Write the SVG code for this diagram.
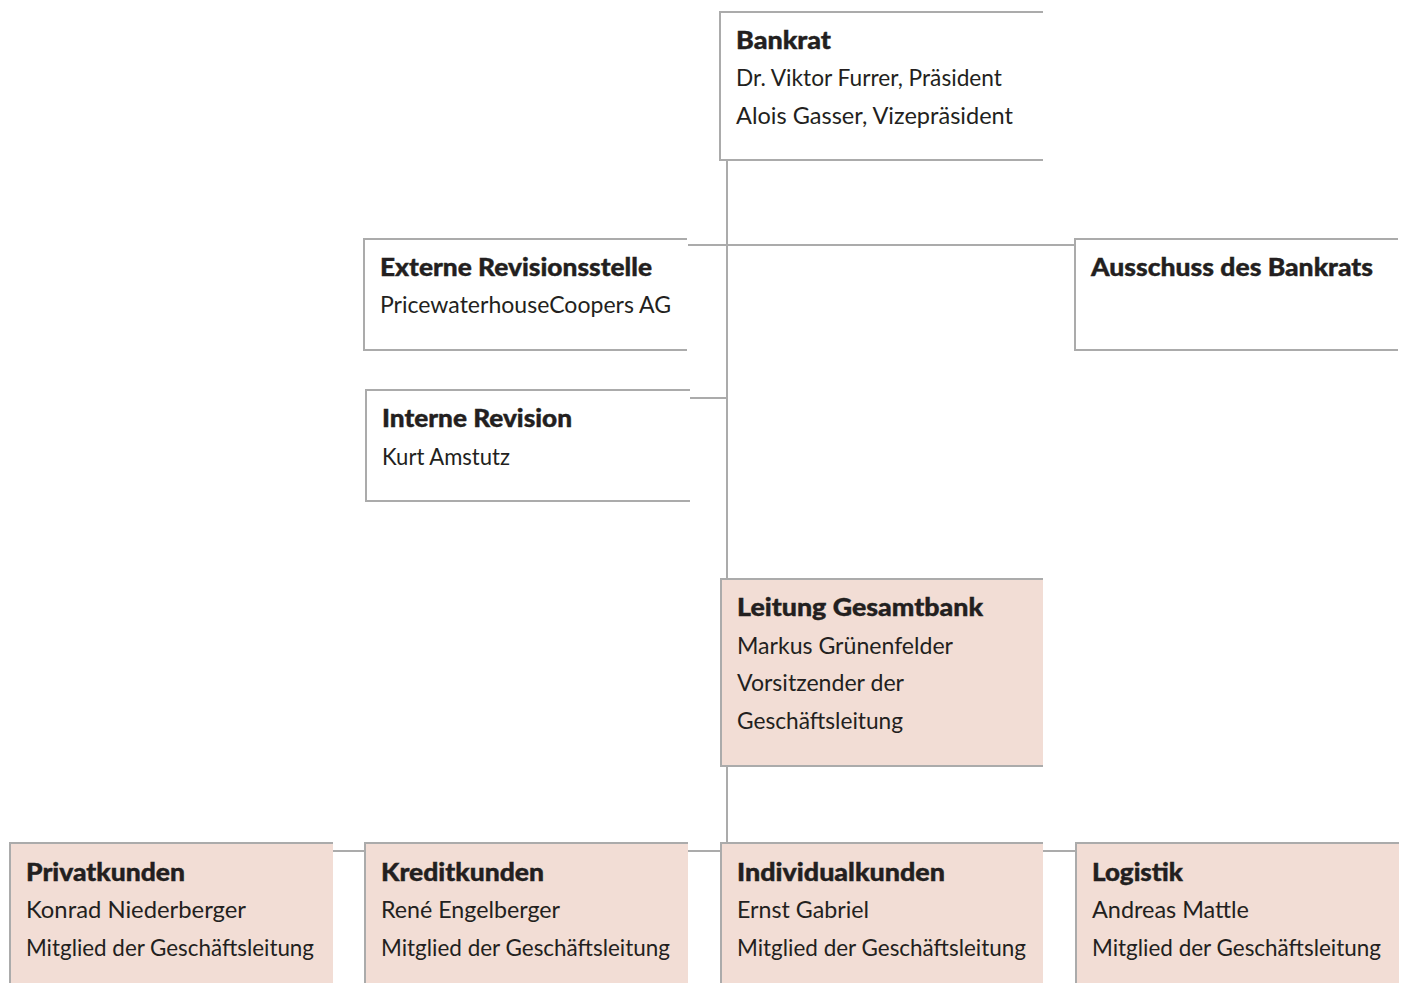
<svg xmlns="http://www.w3.org/2000/svg" width="1405" height="983" viewBox="0 0 1405 983">
<style>
.ln{fill:none;stroke:#ababab;stroke-width:2}
.bg{fill:#ffffff}
.pk{fill:#f2ddd5}
text{font-family:"Lato","Liberation Sans",sans-serif;font-size:24px;fill:#231f20}
.t{font-weight:900;stroke:#231f20;stroke-width:0.4}
</style>
<rect width="1405" height="983" fill="#ffffff"/>
<g id="connectors" class="ln">
<path d="M727,160 V579"/>
<path d="M727,766 V843"/>
<path d="M688,245 H1075"/>
<path d="M690,398 H727"/>
<path d="M333,851 H365"/>
<path d="M688,851 H721"/>
<path d="M1043,851 H1076"/>
</g>
<g id="bankrat">
<rect class="bg" x="720" y="12" width="323" height="148"/>
<path class="ln" d="M1043,12 H720 V160 H1043"/>
<text class="t" x="736" y="49" textLength="95" lengthAdjust="spacingAndGlyphs">Bankrat</text>
<text x="736" y="86" textLength="266" lengthAdjust="spacingAndGlyphs">Dr. Viktor Furrer, Präsident</text>
<text x="736" y="124" textLength="277" lengthAdjust="spacingAndGlyphs">Alois Gasser, Vizepräsident</text>
</g>
<g id="externe">
<rect class="bg" x="364" y="239" width="323" height="111"/>
<path class="ln" d="M687,239 H364 V350 H687"/>
<text class="t" x="380" y="276" textLength="272" lengthAdjust="spacingAndGlyphs">Externe Revisionsstelle</text>
<text x="380" y="313" textLength="291" lengthAdjust="spacingAndGlyphs">PricewaterhouseCoopers AG</text>
</g>
<g id="interne">
<rect class="bg" x="366" y="390" width="324" height="111"/>
<path class="ln" d="M690,390 H366 V501 H690"/>
<text class="t" x="382" y="427" textLength="190" lengthAdjust="spacingAndGlyphs">Interne Revision</text>
<text x="382" y="465" textLength="128" lengthAdjust="spacingAndGlyphs">Kurt Amstutz</text>
</g>
<g id="ausschuss">
<rect class="bg" x="1075" y="239" width="323" height="111"/>
<path class="ln" d="M1398,239 H1075 V350 H1398"/>
<text class="t" x="1091" y="276" textLength="282" lengthAdjust="spacingAndGlyphs">Ausschuss des Bankrats</text>
</g>
<g id="leitung">
<rect class="pk" x="721" y="579" width="322" height="187"/>
<path class="ln" d="M1043,579 H721 V766 H1043"/>
<text class="t" x="737" y="616" textLength="246" lengthAdjust="spacingAndGlyphs">Leitung Gesamtbank</text>
<text x="737" y="654" textLength="216" lengthAdjust="spacingAndGlyphs">Markus Grünenfelder</text>
<text x="737" y="691" textLength="167" lengthAdjust="spacingAndGlyphs">Vorsitzender der</text>
<text x="737" y="729" textLength="166" lengthAdjust="spacingAndGlyphs">Geschäftsleitung</text>
</g>
<g id="privatkunden">
<rect class="pk" x="10" y="843" width="323" height="140"/>
<path class="ln" d="M333,843 H10 V983"/>
<text class="t" x="26" y="881" textLength="159" lengthAdjust="spacingAndGlyphs">Privatkunden</text>
<text x="26" y="918" textLength="220" lengthAdjust="spacingAndGlyphs">Konrad Niederberger</text>
<text x="26" y="956" textLength="288" lengthAdjust="spacingAndGlyphs">Mitglied der Geschäftsleitung</text>
</g>
<g id="kreditkunden">
<rect class="pk" x="365" y="843" width="323" height="140"/>
<path class="ln" d="M688,843 H365 V983"/>
<text class="t" x="381" y="881" textLength="163" lengthAdjust="spacingAndGlyphs">Kreditkunden</text>
<text x="381" y="918" textLength="179" lengthAdjust="spacingAndGlyphs">René Engelberger</text>
<text x="381" y="956" textLength="289" lengthAdjust="spacingAndGlyphs">Mitglied der Geschäftsleitung</text>
</g>
<g id="individualkunden">
<rect class="pk" x="721" y="843" width="322" height="140"/>
<path class="ln" d="M1043,843 H721 V983"/>
<text class="t" x="737" y="881" textLength="208" lengthAdjust="spacingAndGlyphs">Individualkunden</text>
<text x="737" y="918" textLength="132" lengthAdjust="spacingAndGlyphs">Ernst Gabriel</text>
<text x="737" y="956" textLength="289" lengthAdjust="spacingAndGlyphs">Mitglied der Geschäftsleitung</text>
</g>
<g id="logistik">
<rect class="pk" x="1076" y="843" width="323" height="140"/>
<path class="ln" d="M1399,843 H1076 V983"/>
<text class="t" x="1092" y="881" textLength="91" lengthAdjust="spacingAndGlyphs">Logistik</text>
<text x="1092" y="918" textLength="157" lengthAdjust="spacingAndGlyphs">Andreas Mattle</text>
<text x="1092" y="956" textLength="289" lengthAdjust="spacingAndGlyphs">Mitglied der Geschäftsleitung</text>
</g>
</svg>
